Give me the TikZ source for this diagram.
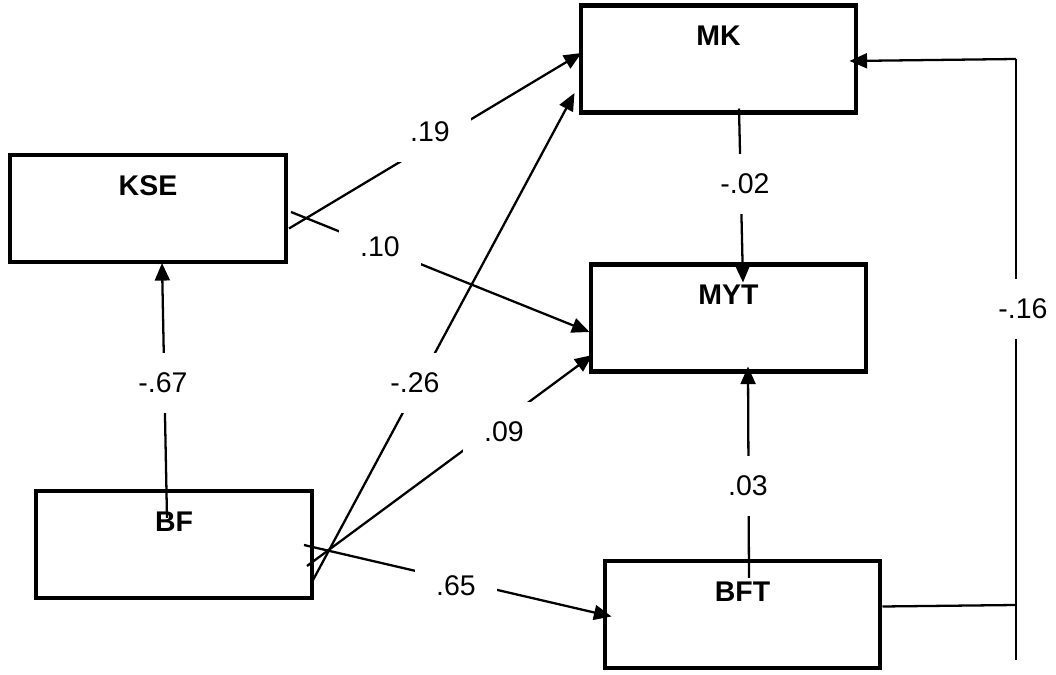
\documentclass[tikz,border=0pt]{standalone}
\usepackage{fontspec}
\setmainfont{Liberation Sans}
\usetikzlibrary{arrows.meta,calc}

\tikzset{
  varbox/.style={draw, line width=2.3pt, minimum width=5.52cm, inner sep=0pt,
    text height=22.8pt, text depth=38.1pt, font=\bfseries\fontsize{16.2}{19}\selectfont},
  coef/.style={fill=white, minimum width=1.64cm, minimum height=1.2cm, inner sep=0pt,
    font=\fontsize{16.2}{19}\selectfont},
  effect/.style={line width=1.3pt, -{Triangle[length=10pt,width=8.5pt]}},
  plainline/.style={line width=1.3pt},
}

\begin{document}
\begin{tikzpicture}[x=0.02cm, y=-0.02cm]
        \useasboundingbox (0,0) rectangle (1056,675);

        % Define variable boxes
        \foreach \name/\x/\y in
        {
            KSE/148/208.5,
            MK/718.5/59,
            MYT/728.5/318,
            BF/174/544.5,
            BFT/742.5/614.5
        } {
        \node[varbox] (\name) at (\x,\y) {\name};
        }

        % Paths between the variables
        \draw[effect] ($(KSE.east)+(1,20)$) -- ($(MK.west)+(3,-6)$);
        \draw[effect] ($(KSE.east)+(3,3.5)$) -- ($(MYT.west)+(1,14)$);
        \draw[effect] ($(BF.east)+(-2,37.5)$) -- ($(MK.west)+(-4,34)$);
        \draw[effect] ($(BF.east)+(-7,21.5)$) -- ($(MYT.west)+(4,37)$);
        \draw[effect] ($(BF.east)+(-10,0.5)$) -- ($(BFT.west)+(9,2)$);
        \draw[effect] ($(BF.north)+(-7,29)$) -- ($(KSE.south)+(14,-1)$);
        \draw[effect] ($(MK.south)+(20.5,-6)$) -- ($(MYT.north)+(14.5,20)$);
        \draw[effect] ($(BFT.north)+(6.5,19)$) -- ($(MYT.south)+(19.5,-7)$);

        % Feedback line from BFT back to MK
        \coordinate (rtop) at (1016,59);
        \coordinate (rmid) at (1016,605);
        \coordinate (rbot) at (1016,660);
        \draw[plainline] (rtop) -- (rbot);
        \draw[plainline] ($(BFT.east)+(0,-8)$) -- (rmid);
        \draw[effect] (rtop) -- ($(MK.east)+(-9,2)$);

        % Path coefficients
        \foreach \name/\pos/\val in
        {
            c19/{(430,132)}/.19,
            c10/{(380,247)}/.10,
            c26/{(415,383)}/-.26,
            c09/{(504,432)}/.09,
            c65/{(456,586)}/.65,
            c67/{(163,383)}/-.67,
            c02/{(745,184)}/-.02,
            c03/{(748,486)}/.03,
            c16/{(1023,309)}/-.16
        } {
        \node[coef] (\name) at \pos {\val};
        }
    \end{tikzpicture}
\end{document}
